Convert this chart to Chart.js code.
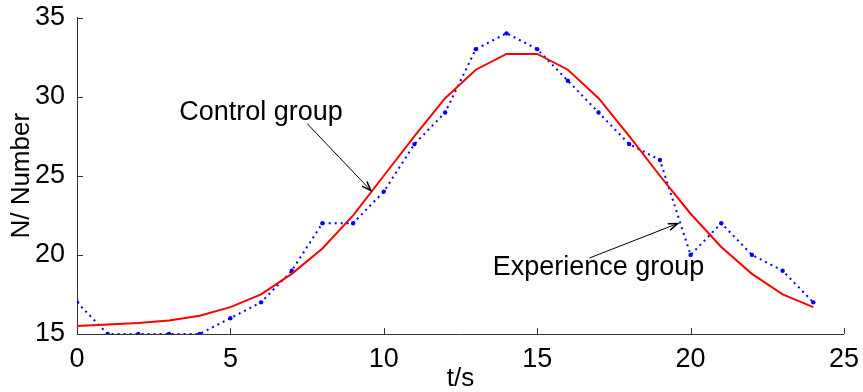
<!DOCTYPE html>
<html>
<head>
<meta charset="utf-8">
<script src="https://cdn.jsdelivr.net/npm/chart.js@4.4.0/dist/chart.umd.min.js"></script>
<style>
  html, body { margin: 0; padding: 0; background: #fff; }
</style>
</head>
<body>
<canvas id="chart" width="863" height="392"></canvas>
<script>
const times = [0, 1, 2, 3, 4, 5, 6, 7, 8, 9, 10, 11, 12, 13, 14, 15, 16, 17, 18, 19, 20, 21, 22, 23, 24];
const controlGroup = [15.5, 15.6, 15.7, 15.85, 16.15, 16.7, 17.5, 18.8, 20.4, 22.5, 25.0, 27.5, 29.9, 31.7, 32.7, 32.7, 31.7, 29.9, 27.5, 25.0, 22.6, 20.5, 18.8, 17.5, 16.7];
const experienceGroup = [17, 15, 15, 15, 15, 16, 17, 19, 22, 22, 24, 27, 29, 33, 34, 33, 31, 29, 27, 26, 20, 22, 20, 19, 17];
const xTicks = [0, 5, 10, 15, 20, 25];
const yTicks = [15, 20, 25, 30, 35];

const FONT = '"Liberation Sans", Arial, sans-serif';

// text labels with arrows, placed in data coordinates
const notes = [
  { text: 'Control group', x: 6.0, y: 29.0, from: [7.5, 28.3], to: [9.58, 24.06] },
  { text: 'Experience group', x: 17.0, y: 19.2, from: [16.7, 19.8], to: [19.58, 21.98] }
];

const extras = {
  id: 'extras',
  afterDatasetsDraw(chart) {
    const { ctx, chartArea, scales: { x, y } } = chart;
    ctx.save();
    // inward tick marks, matlab style
    ctx.strokeStyle = '#333';
    ctx.lineWidth = 1;
    ctx.beginPath();
    xTicks.forEach(v => {
      const px = Math.round(x.getPixelForValue(v)) + 0.5;
      ctx.moveTo(px, chartArea.bottom);
      ctx.lineTo(px, chartArea.bottom - 6);
    });
    yTicks.forEach(v => {
      const py = Math.round(y.getPixelForValue(v)) + 0.5;
      ctx.moveTo(chartArea.left, py);
      ctx.lineTo(chartArea.left + 6, py);
    });
    ctx.stroke();

    ctx.fillStyle = '#000';
    ctx.strokeStyle = '#000';
    ctx.font = '27px ' + FONT;
    ctx.textAlign = 'center';
    ctx.textBaseline = 'middle';
    notes.forEach(n => {
      ctx.fillText(n.text, x.getPixelForValue(n.x), y.getPixelForValue(n.y));
      const x0 = x.getPixelForValue(n.from[0]), y0 = y.getPixelForValue(n.from[1]);
      const x1 = x.getPixelForValue(n.to[0]), y1 = y.getPixelForValue(n.to[1]);
      ctx.lineWidth = 1;
      ctx.beginPath();
      ctx.moveTo(x0, y0);
      ctx.lineTo(x1, y1);
      ctx.stroke();
      const a = Math.atan2(y1 - y0, x1 - x0);
      ctx.lineWidth = 1.5;
      ctx.beginPath();
      ctx.moveTo(x1 - 10 * Math.cos(a - 0.35), y1 - 10 * Math.sin(a - 0.35));
      ctx.lineTo(x1, y1);
      ctx.lineTo(x1 - 10 * Math.cos(a + 0.35), y1 - 10 * Math.sin(a + 0.35));
      ctx.stroke();
    });
    ctx.restore();
  }
};

new Chart(document.getElementById('chart'), {
  type: 'line',
  data: {
    labels: times,
    datasets: [
      {
        label: 'Control group',
        data: times.map((t, i) => ({ x: t, y: controlGroup[i] })),
        borderColor: '#ff0000',
        borderWidth: 2,
        pointRadius: 0,
        tension: 0,
        fill: false
      },
      {
        label: 'Experience group',
        data: times.map((t, i) => ({ x: t, y: experienceGroup[i] })),
        borderColor: '#0000ff',
        borderWidth: 2,
        borderDash: [2, 4],
        pointRadius: 2.2,
        pointBackgroundColor: '#0000ff',
        pointBorderWidth: 0,
        tension: 0,
        fill: false
      }
    ]
  },
  options: {
    responsive: false,
    animation: false,
    layout: { padding: { top: 16, right: 17, left: 0, bottom: 0 } },
    plugins: { legend: { display: false }, tooltip: { enabled: false } },
    scales: {
      x: {
        type: 'linear',
        min: 0,
        max: 25,
        afterBuildTicks: s => { s.ticks = xTicks.map(v => ({ value: v })); },
        afterFit: s => { s.height = 58; },
        grid: { display: false },
        border: { display: true, color: '#333', width: 1 },
        ticks: { color: '#000', padding: 4, maxRotation: 0, font: { family: FONT, size: 27, lineHeight: 1 } },
        title: { display: true, text: 't/s', color: '#000', padding: { top: 0, bottom: 0 }, font: { family: FONT, size: 26, lineHeight: 1 } }
      },
      y: {
        min: 15,
        max: 35,
        afterBuildTicks: s => { s.ticks = yTicks.map(v => ({ value: v })); },
        afterFit: s => { s.width = 77; },
        grid: { display: false },
        border: { display: true, color: '#333', width: 1 },
        ticks: { color: '#000', padding: 4, font: { family: FONT, size: 27, lineHeight: 1 } },
        title: { display: true, text: 'N/ Number', color: '#000', padding: { top: 9, bottom: 0 }, font: { family: FONT, size: 26, lineHeight: 1 } }
      }
    }
  },
  plugins: [extras]
});
</script>
</body>
</html>
